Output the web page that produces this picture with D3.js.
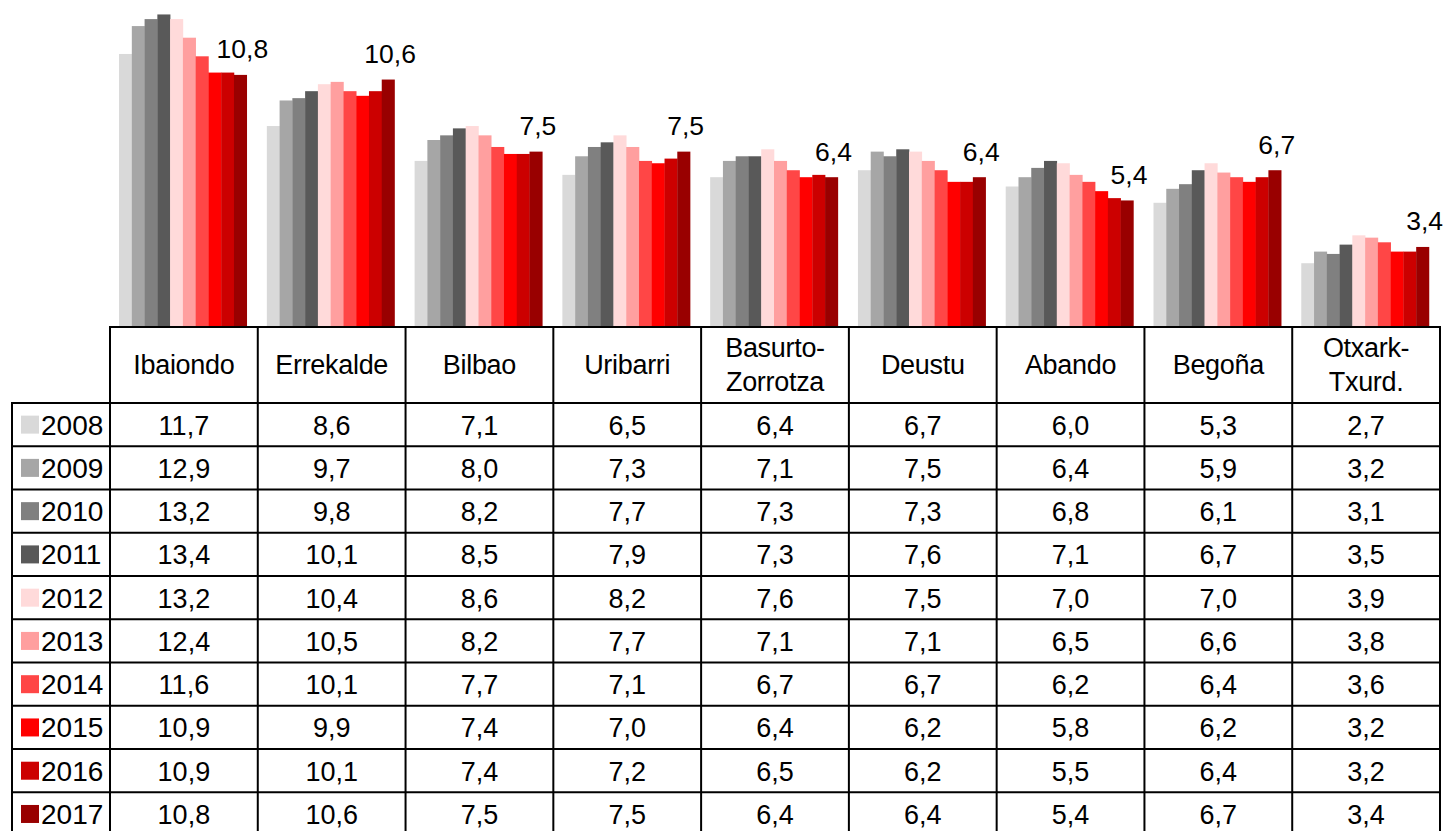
<!DOCTYPE html>
<html>
<head>
<meta charset="utf-8">
<script src="https://cdn.jsdelivr.net/npm/d3@7"></script>
<style>
  html, body { margin: 0; padding: 0; background: #fff; }
  svg { display: block; font-family: "Liberation Sans", Arial, sans-serif; }
</style>
</head>
<body>
<svg id="chart" width="1447" height="831"></svg>
<script>
// ---- data ----
const categories = ["Ibaiondo", "Errekalde", "Bilbao", "Uribarri", "Basurto-\nZorrotza", "Deustu", "Abando", "Begoña", "Otxark-\nTxurd."];
const years = ["2008", "2009", "2010", "2011", "2012", "2013", "2014", "2015", "2016", "2017"];
const y2008 = [11.7, 8.6, 7.1, 6.5, 6.4, 6.7, 6.0, 5.3, 2.7];
const y2009 = [12.9, 9.7, 8.0, 7.3, 7.1, 7.5, 6.4, 5.9, 3.2];
const y2010 = [13.2, 9.8, 8.2, 7.7, 7.3, 7.3, 6.8, 6.1, 3.1];
const y2011 = [13.4, 10.1, 8.5, 7.9, 7.3, 7.6, 7.1, 6.7, 3.5];
const y2012 = [13.2, 10.4, 8.6, 8.2, 7.6, 7.5, 7.0, 7.0, 3.9];
const y2013 = [12.4, 10.5, 8.2, 7.7, 7.1, 7.1, 6.5, 6.6, 3.8];
const y2014 = [11.6, 10.1, 7.7, 7.1, 6.7, 6.7, 6.2, 6.4, 3.6];
const y2015 = [10.9, 9.9, 7.4, 7.0, 6.4, 6.2, 5.8, 6.2, 3.2];
const y2016 = [10.9, 10.1, 7.4, 7.2, 6.5, 6.2, 5.5, 6.4, 3.2];
const y2017 = [10.8, 10.6, 7.5, 7.5, 6.4, 6.4, 5.4, 6.7, 3.4];
const seriesValues = [y2008, y2009, y2010, y2011, y2012, y2013, y2014, y2015, y2016, y2017];
const yDomain = [0, 14];

// ---- style ----
const colors = ["#d9d9d9", "#a6a6a6", "#808080", "#595959", "#ffdada", "#ff9f9f", "#ff4646", "#ff0000", "#cc0000", "#990000"];
const FS = 27;

const svg = d3.select("#chart");
const fmt = v => d3.format(".1f")(v).replace(".", ",");

// layout
const tableLeft = 110, tableRight = 1440, legendLeft = 12;
const plotBottom = 326, plotTop = 0.5;
const headerBottom = 403;
const rowH = 43.26;

const x = d3.scaleBand().domain(categories).range([tableLeft, tableRight]).paddingInner(0.136).paddingOuter(0.068);
const xCol = d3.scaleBand().domain(categories).range([tableLeft, tableRight]).padding(0);
const xs = d3.scaleBand().domain(years).range([0, x.bandwidth()]).padding(0);
const y = d3.scaleLinear().domain(yDomain).range([plotBottom, plotTop]);
const yRow = d3.scaleBand().domain(years).range([headerBottom, headerBottom + rowH * years.length]).padding(0);

// bars
const groups = svg.append("g").selectAll("g").data(years).join("g")
  .attr("fill", (d, i) => colors[i]);
groups.each(function(yr, si) {
  d3.select(this).selectAll("rect").data(categories).join("rect")
    .attr("x", c => x(c) + xs(yr) - 1)
    .attr("width", xs.bandwidth() + 0.3)
    .attr("y", (c, ci) => y(seriesValues[si][ci]))
    .attr("height", (c, ci) => y(0) - y(seriesValues[si][ci]));
});

// labels for last series
const lastIdx = years.length - 1;
svg.append("g").selectAll("text").data(categories).join("text")
  .attr("x", c => x(c) + xs(years[lastIdx]) + xs.bandwidth() / 2 + 1)
  .attr("y", (c, ci) => y(seriesValues[lastIdx][ci]) - 16.5)
  .attr("text-anchor", "middle")
  .attr("font-size", 26.5)
  .attr("fill", "#000")
  .text((c, ci) => fmt(seriesValues[lastIdx][ci]));

// table
const tbl = svg.append("g");
// header texts
categories.forEach(c => {
  const lines = c.split("\n");
  const cx = xCol(c) + xCol.bandwidth() / 2;
  const cy = (plotBottom + headerBottom) / 2;
  const lh = 34;
  lines.forEach((ln, li) => {
    tbl.append("text")
      .attr("x", cx)
      .attr("y", cy + FS * 0.36 + (li - (lines.length - 1) / 2) * lh)
      .attr("text-anchor", "middle")
      .attr("font-size", FS)
      .attr("letter-spacing", "-0.3")
      .text(ln);
  });
});

// data cells
years.forEach((yr, si) => {
  const cy = yRow(yr) + yRow.bandwidth() / 2;
  tbl.append("rect")
    .attr("x", 21).attr("y", cy - 9).attr("width", 18).attr("height", 18)
    .attr("fill", colors[si]);
  tbl.append("text")
    .attr("x", 41).attr("y", cy + FS * 0.37)
    .attr("font-size", 28)
    .text(yr);
  categories.forEach((c, ci) => {
    tbl.append("text")
      .attr("x", xCol(c) + xCol.bandwidth() / 2)
      .attr("y", cy + FS * 0.37)
      .attr("text-anchor", "middle")
      .attr("font-size", FS)
      .text(fmt(seriesValues[si][ci]));
  });
});

// grid lines
const lineStyle = sel => sel.attr("stroke", "#000").attr("stroke-width", 2).attr("fill", "none");
const tableBottom = headerBottom + rowH * years.length;
tbl.append("line").call(lineStyle).attr("x1", tableLeft - 1).attr("x2", tableRight + 1).attr("y1", plotBottom + 1).attr("y2", plotBottom + 1);
years.forEach(yr => {
  tbl.append("line").call(lineStyle)
    .attr("x1", legendLeft - 1).attr("x2", tableRight + 1)
    .attr("y1", yRow(yr)).attr("y2", yRow(yr));
});
tbl.append("line").call(lineStyle).attr("x1", legendLeft - 1).attr("x2", tableRight + 1).attr("y1", tableBottom).attr("y2", tableBottom);
tbl.append("line").call(lineStyle).attr("x1", legendLeft).attr("x2", legendLeft).attr("y1", headerBottom).attr("y2", tableBottom);
categories.forEach(c => {
  tbl.append("line").call(lineStyle).attr("x1", xCol(c)).attr("x2", xCol(c)).attr("y1", plotBottom).attr("y2", tableBottom);
});
tbl.append("line").call(lineStyle).attr("x1", tableRight).attr("x2", tableRight).attr("y1", plotBottom).attr("y2", tableBottom);
</script>
</body>
</html>
